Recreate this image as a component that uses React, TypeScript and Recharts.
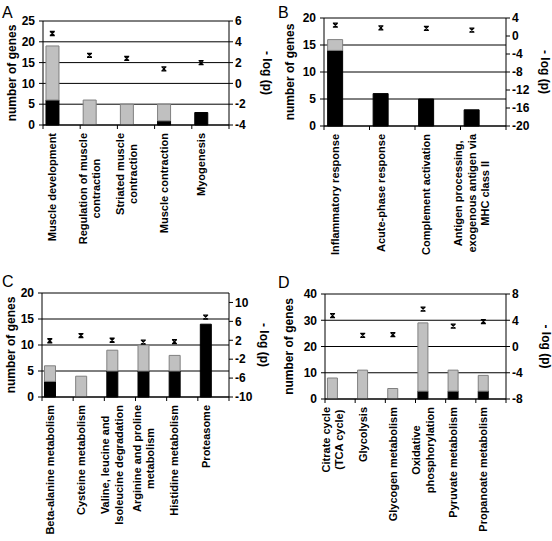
import React from 'react';
import { ComposedChart, Bar, Line, XAxis, YAxis, CartesianGrid } from 'recharts';

const FONT = "'Liberation Sans', Arial, Helvetica, sans-serif";

// ---------- Panel A ----------
const catsA = ['Muscle development', 'Regulation of muscle\ncontraction', 'Striated muscle\ncontraction', 'Muscle contraction', 'Myogenesis'];
const blackA = [6, 0, 0, 1, 3];
const grayA = [13, 6, 5, 4, 0];
const logpA = [4.8, 2.7, 2.4, 1.4, 2.0];
const leftTicksA = [0, 5, 10, 15, 20, 25];
const rightTicksA = [-4, -2, 0, 2, 4, 6];

// ---------- Panel B ----------
const catsB = ['Inflammatory response', 'Acute-phase response', 'Complement activation', 'Antigen processing,\nexogenous antigen via\nMHC class II'];
const blackB = [14, 6, 5, 3];
const grayB = [2, 0, 0, 0];
const logpB = [2.4, 1.8, 1.7, 1.3];
const leftTicksB = [0, 5, 10, 15, 20];
const rightTicksB = [-20, -16, -12, -8, -4, 0, 4];

// ---------- Panel C ----------
const catsC = ['Beta-alanine metabolism', 'Cysteine metabolism', 'Valine, leucine and\nIsoleucine degradation', 'Arginine and proline\nmetabolism', 'Histidine metabolism', 'Proteasome'];
const blackC = [3, 0, 5, 5, 5, 14];
const grayC = [3, 4, 4, 5, 3, 0];
const logpC = [1.9, 3.0, 2.0, 1.6, 1.7, 6.9];
const leftTicksC = [0, 5, 10, 15, 20];
const rightTicksC = [-10, -6, -2, 2, 6, 10];
const rightDomainC = [-10, 12];

// ---------- Panel D ----------
const catsD = ['Citrate cycle\n(TCA cycle)', 'Glycolysis', 'Glycogen metabolism', 'Oxidative\nphosphorylation', 'Pyruvate metabolism', 'Propanoate metabolism'];
const blackD = [0, 0, 0, 3, 3, 3];
const grayD = [8, 11, 4, 26, 8, 6];
const logpD = [4.7, 1.7, 1.8, 5.7, 3.1, 3.8];
const leftTicksD = [0, 10, 20, 30, 40];
const rightTicksD = [-8, -4, 0, 4, 8];

const leftTitle = 'number of genes';
const rightTitle = '- log (p)';

let ctx: CanvasRenderingContext2D | null = null;
function measure(text: string, font: string): number {
  if (!ctx) {
    const c = document.createElement('canvas');
    ctx = c.getContext('2d');
  }
  if (!ctx) return text.length * 6;
  ctx.font = font;
  return ctx.measureText(text).width;
}

const XMark = (props: any) => {
  const { cx, cy, index } = props;
  if (cx == null || cy == null || isNaN(cx) || isNaN(cy)) return <g key={`m${index}`} />;
  const d = `M${cx - 2.5},${cy - 2} H${cx + 2.5} M${cx - 2.5},${cy + 2} H${cx + 2.5} M${cx - 2},${cy - 2} L${cx + 2},${cy + 2} M${cx - 2},${cy + 2} L${cx + 2},${cy - 2}`;
  return <path key={`m${index}`} d={d} stroke="#000" strokeWidth={1.3} fill="none" />;
};

const catStyle: React.CSSProperties = {
  fontFamily: FONT,
  fontSize: '11px',
  fontWeight: 700,
  fill: '#000',
};

function makeCatTick(band: number, shift: number, n: number) {
  return (props: any) => {
    const { x, y, payload, index } = props;
    const lines = String(payload.value).split('\n');
    const fs = 11;
    const lh = 13.5;
    const gap = 8;
    const font = `bold ${fs}px 'Liberation Sans'`;
    const maxW = Math.max(...lines.map((l) => measure(l, font)));
    const bx = x - band / 2 + shift;
    return (
      <g>
        <line x1={bx} y1={y} x2={bx} y2={y + 4} stroke="#000" strokeWidth={1} />
        {index === n - 1 ? (
          <line x1={x + band / 2 + shift} y1={y} x2={x + band / 2 + shift} y2={y + 4} stroke="#000" strokeWidth={1} />
        ) : null}
        <text transform={`translate(${x},${y}) rotate(-90)`} textAnchor="middle" style={catStyle}>
          {lines.map((l, i) => (
            <tspan key={i} x={-(gap + maxW / 2)} y={(i - (lines.length - 1) / 2) * lh + fs * 0.36} style={catStyle}>
              {l}
            </tspan>
          ))}
        </text>
      </g>
    );
  };
}

type PanelProps = {
  letter: string;
  cats: string[];
  black: number[];
  gray: number[];
  logp: number[];
  leftTicks: number[];
  rightTicks: number[];
  rightDomain?: number[];
  x0: number;
  y0: number;
  plotL: number;
  plotR: number;
  plotT: number;
  plotB: number;
  letterY: number;
  titleL: number;
  titleR: number;
};

function Panel(p: PanelProps) {
  const W = 276;
  const H = 281;
  const yw = 30;
  const xh = 100;
  const data = p.cats.map((c, i) => ({ name: c, black: p.black[i], gray: p.gray[i], logp: p.logp[i] }));
  const n = p.cats.length;
  const band = (p.plotR - p.plotL) / n;
  const shift = band * 0.25;
  const margin = { top: p.plotT, left: p.plotL - yw, right: W - p.plotR - yw, bottom: H - p.plotB - xh };
  const tickStyle = { fill: '#000', fontSize: 12, fontWeight: 'bold', fontFamily: FONT };
  const rDomain = p.rightDomain ?? [p.rightTicks[0], p.rightTicks[p.rightTicks.length - 1]];
  const midY = (p.plotT + p.plotB) / 2;
  const lx = p.plotL + p.titleL;
  const rx = p.plotR + p.titleR;
  const titleStyle: React.CSSProperties = { fontFamily: FONT, fontSize: '12px', fontWeight: 700, fill: '#000' };
  return (
    <div style={{ position: 'absolute', left: p.x0, top: p.y0, width: W, height: H }}>
      <ComposedChart width={W} height={H} data={data} margin={margin} barCategoryGap="33%">
        <CartesianGrid yAxisId="left" horizontal vertical={false} stroke="#000" strokeWidth={1} />
        <XAxis
          dataKey="name"
          interval={0}
          tickLine={false}
          tickSize={0}
          tickMargin={0}
          height={xh}
          axisLine={{ stroke: '#000', strokeWidth: 1 }}
          padding={{ left: -shift, right: shift }}
          tick={makeCatTick(band, shift, n)}
        />
        <YAxis
          yAxisId="left"
          orientation="left"
          width={yw}
          domain={[p.leftTicks[0], p.leftTicks[p.leftTicks.length - 1]]}
          ticks={p.leftTicks}
          interval={0}
          tickSize={4}
          tickMargin={4}
          axisLine={{ stroke: '#000', strokeWidth: 1 }}
          tickLine={{ stroke: '#000', strokeWidth: 1 }}
          tick={tickStyle}
        />
        <YAxis
          yAxisId="right"
          orientation="right"
          width={yw}
          domain={rDomain}
          ticks={p.rightTicks}
          interval={0}
          tickSize={4}
          tickMargin={2}
          axisLine={{ stroke: '#000', strokeWidth: 1 }}
          tickLine={{ stroke: '#000', strokeWidth: 1 }}
          tick={tickStyle}
        />
        <Bar yAxisId="left" dataKey="black" stackId="s" fill="#000" stroke="#000" strokeWidth={1} isAnimationActive={false} />
        <Bar yAxisId="left" dataKey="gray" stackId="s" fill="#c0c0c0" stroke="#808080" strokeWidth={1} isAnimationActive={false} />
        <Line
          yAxisId="right"
          dataKey="logp"
          stroke="none"
          dot={XMark}
          activeDot={false}
          isAnimationActive={false}
        />
      </ComposedChart>
      <svg width={W} height={H} style={{ position: 'absolute', left: 0, top: 0, pointerEvents: 'none' }}>
        <text x={2} y={p.letterY} style={{ fontFamily: FONT, fontSize: '16px', fill: '#000' }}>
          {p.letter}
        </text>
        <text
          transform={`translate(${lx},${midY}) rotate(-90)`}
          textAnchor="middle"
          dominantBaseline="central"
          style={titleStyle}
        >
          {leftTitle}
        </text>
        <text
          transform={`translate(${rx},${midY}) rotate(90)`}
          textAnchor="middle"
          dominantBaseline="central"
          style={titleStyle}
        >
          {rightTitle}
        </text>
      </svg>
    </div>
  );
}

export default function App() {
  return (
    <div style={{ position: 'absolute', left: 0, top: 0, width: 552, height: 541, background: '#fff', overflow: 'hidden' }}>
      <Panel letter="A" cats={catsA} black={blackA} gray={grayA} logp={logpA} leftTicks={leftTicksA} rightTicks={rightTicksA}
        x0={0} y0={0} plotL={43} plotR={229} plotT={21} plotB={125} letterY={18} titleL={-31} titleR={38} />
      <Panel letter="B" cats={catsB} black={blackB} gray={grayB} logp={logpB} leftTicks={leftTicksB} rightTicks={rightTicksB}
        x0={276} y0={0} plotL={48} plotR={230} plotT={18} plotB={126} letterY={18} titleL={-34} titleR={39} />
      <Panel letter="C" cats={catsC} black={blackC} gray={grayC} logp={logpC} leftTicks={leftTicksC} rightTicks={rightTicksC} rightDomain={rightDomainC}
        x0={0} y0={260} plotL={42} plotR={229} plotT={33} plotB={137} letterY={27} titleL={-31} titleR={35} />
      <Panel letter="D" cats={catsD} black={blackD} gray={grayD} logp={logpD} leftTicks={leftTicksD} rightTicks={rightTicksD}
        x0={276} y0={260} plotL={49} plotR={230} plotT={34} plotB={139} letterY={28} titleL={-36} titleR={40} />
    </div>
  );
}
